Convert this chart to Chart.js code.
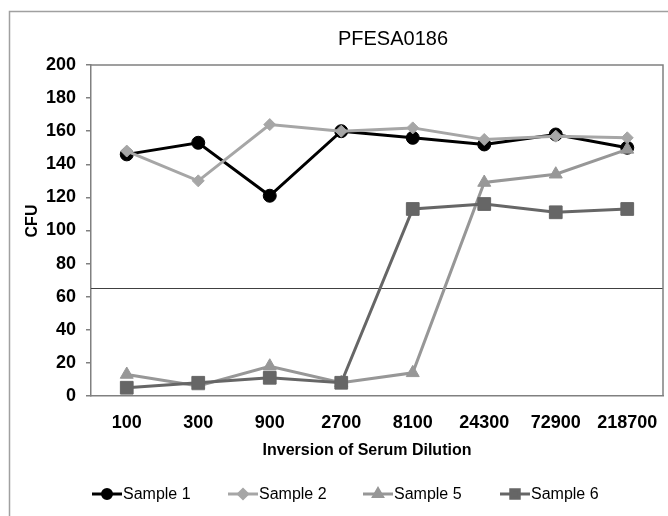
<!DOCTYPE html>
<html>
<head>
<meta charset="utf-8">
<script src="https://cdn.jsdelivr.net/npm/chart.js@4/dist/chart.umd.min.js"></script>
<style>
html,body{margin:0;padding:0;background:#fff;overflow:hidden;}
#wrap{width:668px;height:516px;position:relative;}
canvas{display:block;}
</style>
</head>
<body>
<div id="wrap"><canvas id="c" width="668" height="516"></canvas></div>
<script>
// ---- data ----
const categories = ['100', '300', '900', '2700', '8100', '24300', '72900', '218700'];
const sample1 = [146, 153, 121, 160, 156, 152, 158, 150];
const sample2 = [148, 130, 164, 160, 162, 155, 157, 156];
const sample5 = [13, 6, 18, 8, 14, 129, 134, 149];
const sample6 = [5, 8, 11, 8, 113, 116, 111, 113];
const seriesNames = ['Sample 1', 'Sample 2', 'Sample 5', 'Sample 6'];
const yTickValues = [0, 20, 40, 60, 80, 100, 120, 140, 160, 180, 200];
const threshold = 65;
const chartTitle = 'PFESA0186';
const xAxisTitle = 'Inversion of Serum Dilution';
const yAxisTitle = 'CFU';

const FONT = "'Liberation Sans', Arial, sans-serif";

const styles = [
  {color: '#000000', pointStyle: 'circle', radius: 6.5, legendRadius: 4.5, order: 4},
  {color: '#A6A6A6', pointStyle: 'rectRot', radius: 6, legendRadius: 4.5, order: 3},
  {color: '#979797', pointStyle: 'triangle', radius: 7.5, legendRadius: 5, order: 2},
  {color: '#666666', pointStyle: 'rect', radius: 9, legendRadius: 6, order: 1}
];
const seriesData = [sample1, sample2, sample5, sample6];

const datasets = seriesData.map((d, i) => ({
  label: seriesNames[i],
  data: d,
  borderColor: styles[i].color,
  backgroundColor: styles[i].color,
  pointBackgroundColor: styles[i].color,
  pointBorderColor: styles[i].color,
  pointStyle: styles[i].pointStyle,
  pointRadius: styles[i].radius,
  pointBorderWidth: 1,
  borderWidth: 3,
  tension: 0,
  fill: false,
  order: styles[i].order
}));

const decor = {
  id: 'decor',
  beforeDatasetsDraw(chart) {
    const ctx = chart.ctx;
    const a = chart.chartArea;
    const y = chart.scales.y;
    ctx.save();
    // threshold line
    const ty = Math.round(y.getPixelForValue(threshold)) + 0.5;
    ctx.strokeStyle = '#404040';
    ctx.lineWidth = 1;
    ctx.beginPath();
    ctx.moveTo(a.left, ty);
    ctx.lineTo(a.right, ty);
    ctx.stroke();
    // plot border top/right
    ctx.strokeStyle = '#808080';
    ctx.lineWidth = 1.5;
    ctx.beginPath();
    ctx.moveTo(a.left, a.top);
    ctx.lineTo(a.right, a.top);
    ctx.lineTo(a.right, a.bottom);
    ctx.stroke();
    ctx.restore();
  },
  afterDraw(chart) {
    const ctx = chart.ctx;
    ctx.save();
    // outer frame
    ctx.strokeStyle = '#A0A0A0';
    ctx.lineWidth = 1.5;
    ctx.beginPath();
    ctx.moveTo(9.5, 516);
    ctx.lineTo(9.5, 11.5);
    ctx.lineTo(668, 11.5);
    ctx.stroke();
    // title
    ctx.fillStyle = '#000';
    ctx.textAlign = 'center';
    ctx.textBaseline = 'middle';
    ctx.font = '20px ' + FONT;
    ctx.fillText(chartTitle, 393, 39);
    // x axis title
    ctx.font = 'bold 16px ' + FONT;
    ctx.fillText(xAxisTitle, 367, 451);
    // y axis title
    ctx.save();
    ctx.translate(33, 221);
    ctx.rotate(-Math.PI / 2);
    ctx.fillText(yAxisTitle, 0, 0);
    ctx.restore();
    // legend
    const lx = [92, 228, 363, 500];
    const ly = 494;
    ctx.font = '16px ' + FONT;
    ctx.textAlign = 'left';
    chart.data.datasets.forEach((ds, i) => {
      const x0 = lx[i];
      ctx.strokeStyle = ds.borderColor;
      ctx.lineWidth = 3;
      ctx.beginPath();
      ctx.moveTo(x0, ly);
      ctx.lineTo(x0 + 30, ly);
      ctx.stroke();
      ctx.fillStyle = ds.borderColor;
      Chart.helpers.drawPoint(ctx, {
        pointStyle: ds.pointStyle,
        radius: styles[i].legendRadius,
        rotation: 0,
        borderWidth: 1
      }, x0 + 15, ly);
      ctx.fillStyle = '#000';
      ctx.fillText(ds.label, x0 + 31, ly + 1);
    });
    ctx.restore();
  }
};

new Chart(document.getElementById('c'), {
  type: 'line',
  data: {labels: categories, datasets: datasets},
  options: {
    responsive: false,
    animation: false,
    devicePixelRatio: 1,
    layout: {autoPadding: false, padding: {left: 0, top: 65, right: 5, bottom: 0}},
    plugins: {legend: {display: false}, title: {display: false}, tooltip: {enabled: false}},
    scales: {
      x: {
        type: 'category',
        offset: true,
        grid: {display: false, drawTicks: false},
        border: {display: true, color: '#808080', width: 1.5},
        ticks: {color: '#000', font: {family: FONT, size: 18, weight: 'bold'}, padding: 16, maxRotation: 0, autoSkip: false},
        afterFit(s) { s.height = 120; s.paddingLeft = 0; s.paddingRight = 0; }
      },
      y: {
        min: 0,
        max: 200,
        afterBuildTicks(s) { s.ticks = yTickValues.map(v => ({value: v})); },
        grid: {drawOnChartArea: false, drawTicks: true, tickLength: 5, color: '#808080', lineWidth: 1.5},
        border: {display: true, color: '#808080', width: 1.5},
        ticks: {color: '#000', font: {family: FONT, size: 18, weight: 'bold'}, padding: 10},
        afterFit(s) { s.width = 91; s.paddingTop = 0; s.paddingBottom = 0; }
      }
    }
  },
  plugins: [decor]
});
</script>
</body>
</html>
